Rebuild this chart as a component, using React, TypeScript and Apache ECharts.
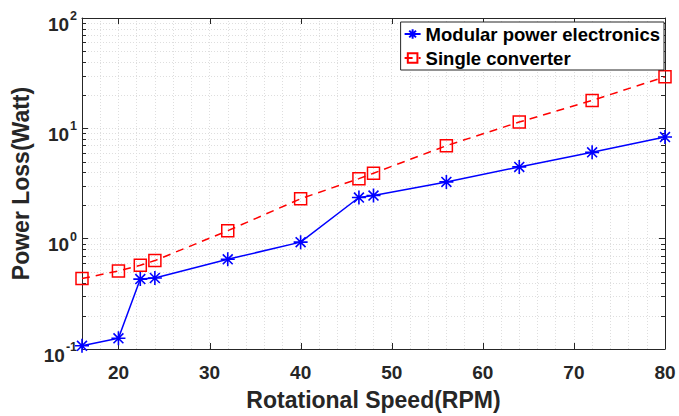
import React, { useEffect, useRef } from 'react';
import * as echarts from 'echarts';

// Data
const speedRPM = [16, 20, 22.4, 24, 32, 40, 46.4, 48, 56, 64, 72, 80];
const modularLoss = [0.107, 0.125, 0.43, 0.44, 0.65, 0.93, 2.36, 2.46, 3.27, 4.47, 6.06, 8.34];
const singleLoss = [0.435, 0.51, 0.574, 0.633, 1.18, 2.3, 3.5, 3.92, 6.96, 11.4, 17.9, 29.3];

const seriesNames = ['Modular power electronics', 'Single converter'];
const xMin = 16;
const xMax = 80;
const yMin = 0.1;
const yMax = 100;
const xMajorTicks = [20, 30, 40, 50, 60, 70, 80];
const yMinorTicks = [
  0.2, 0.3, 0.4, 0.5, 0.6, 0.7, 0.8, 0.9,
  2, 3, 4, 5, 6, 7, 8, 9,
  20, 30, 40, 50, 60, 70, 80, 90,
];

const FONT = "'Liberation Sans', Arial, Helvetica, sans-serif";
const AXIS_COLOR = '#262626';
const GRID_COLOR = '#dedede';

const asteriskPath =
  'path://M6 0 L6 12 M0 6 L12 6 M1.76 1.76 L10.24 10.24 M1.76 10.24 L10.24 1.76';

export default function App() {
  const ref = useRef<HTMLDivElement>(null);

  useEffect(() => {
    if (!ref.current) return;
    const chart = echarts.init(ref.current, undefined, { renderer: 'svg' });

    const option: any = {
      animation: false,
      backgroundColor: '#ffffff',
      textStyle: { fontFamily: FONT },
      grid: { left: 82, right: 14, top: 18, bottom: 66, containLabel: false },
      legend: {
        data: seriesNames,
        orient: 'vertical',
        right: 15,
        top: 22,
        padding: [2, 4, 2, 3],
        itemGap: 4,
        itemWidth: 16,
        itemHeight: 12,
        backgroundColor: '#ffffff',
        borderColor: AXIS_COLOR,
        borderWidth: 1,
        textStyle: {
          fontFamily: FONT,
          fontSize: 18.5,
          fontWeight: 'bold',
          color: '#000000',
          lineHeight: 20,
        },
      },
      xAxis: [
        {
          type: 'value',
          min: xMin,
          max: xMax,
          interval: 2,
          position: 'bottom',
          name: 'Rotational Speed(RPM)',
          nameLocation: 'middle',
          nameGap: 39,
          nameTextStyle: { fontFamily: FONT, fontSize: 23, fontWeight: 'bold', color: AXIS_COLOR },
          axisLine: { show: true, lineStyle: { color: AXIS_COLOR, width: 1 } },
          axisTick: { show: false },
          axisLabel: {
            margin: 14,
            fontFamily: FONT,
            fontSize: 19,
            fontWeight: 'bold',
            color: AXIS_COLOR,
            formatter: (v: number) => (xMajorTicks.indexOf(v) >= 0 ? String(v) : ''),
          },
          splitLine: { show: true, lineStyle: { color: GRID_COLOR, width: 1, type: [1, 2] } },
        },
        {
          type: 'value',
          min: xMin,
          max: xMax,
          position: 'top',
          axisLine: { show: true, lineStyle: { color: AXIS_COLOR, width: 1 } },
          axisTick: { show: false },
          axisLabel: { show: false },
          splitLine: { show: false },
        },
      ],
      yAxis: [
        {
          type: 'log',
          logBase: 10,
          min: yMin,
          max: yMax,
          position: 'left',
          name: 'Power Loss(Watt)',
          nameLocation: 'middle',
          nameGap: 46,
          nameTextStyle: { fontFamily: FONT, fontSize: 23, fontWeight: 'bold', color: AXIS_COLOR },
          axisLine: { show: true, lineStyle: { color: AXIS_COLOR, width: 1 } },
          axisTick: { show: true, inside: true, length: 6, lineStyle: { color: AXIS_COLOR } },
          axisLabel: {
            margin: 5,
            color: AXIS_COLOR,
            formatter: (v: number) => {
              const e = Math.round(Math.log10(v));
              return '{b|10}{s|' + e + '}';
            },
            rich: {
              b: { fontFamily: FONT, fontSize: 19, fontWeight: 'bold', color: AXIS_COLOR, lineHeight: 19, padding: [12, 0, 0, 0] },
              s: { fontFamily: FONT, fontSize: 12.5, fontWeight: 'bold', color: AXIS_COLOR, lineHeight: 13, padding: [7, 0, 11, 1] },
            },
          },
          splitLine: { show: true, lineStyle: { color: GRID_COLOR, width: 1, type: [1, 2] } },
        },
        {
          type: 'log',
          logBase: 10,
          min: yMin,
          max: yMax,
          position: 'right',
          axisLine: { show: true, lineStyle: { color: AXIS_COLOR, width: 1 } },
          axisTick: { show: true, inside: true, length: 6, lineStyle: { color: AXIS_COLOR } },
          axisLabel: { show: false },
          splitLine: { show: false },
        },
      ],
      series: [
        {
          type: 'custom',
          name: 'yMinor',
          silent: true,
          z: 1,
          xAxisIndex: 0,
          yAxisIndex: 0,
          data: yMinorTicks.map((v) => [xMin, v]),
          renderItem: (params: any, api: any) => {
            const v = api.value(1);
            const p0 = api.coord([xMin, v]);
            const p1 = api.coord([xMax, v]);
            const y = Math.round(p0[1]) + 0.5;
            return {
              type: 'group',
              children: [
                {
                  type: 'line',
                  shape: { x1: p0[0], y1: y, x2: p1[0], y2: y },
                  style: { stroke: GRID_COLOR, lineWidth: 1, lineDash: [1, 2] },
                },
                {
                  type: 'line',
                  shape: { x1: p0[0], y1: y, x2: p0[0] + 4, y2: y },
                  style: { stroke: AXIS_COLOR, lineWidth: 1 },
                },
                {
                  type: 'line',
                  shape: { x1: p1[0] - 4, y1: y, x2: p1[0], y2: y },
                  style: { stroke: AXIS_COLOR, lineWidth: 1 },
                },
              ],
            };
          },
        },
        {
          type: 'custom',
          name: 'xTicks',
          silent: true,
          z: 1,
          xAxisIndex: 0,
          yAxisIndex: 0,
          data: xMajorTicks.map((v) => [v, yMin]),
          renderItem: (params: any, api: any) => {
            const x = api.value(0);
            const pb = api.coord([x, yMin]);
            const pt = api.coord([x, yMax]);
            const xx = Math.round(pb[0]) + 0.5;
            return {
              type: 'group',
              children: [
                {
                  type: 'line',
                  shape: { x1: xx, y1: pb[1], x2: xx, y2: pb[1] - 6 },
                  style: { stroke: AXIS_COLOR, lineWidth: 1 },
                },
                {
                  type: 'line',
                  shape: { x1: xx, y1: pt[1], x2: xx, y2: pt[1] + 6 },
                  style: { stroke: AXIS_COLOR, lineWidth: 1 },
                },
              ],
            };
          },
        },
        {
          type: 'line',
          name: seriesNames[0],
          data: speedRPM.map((x, i) => [x, modularLoss[i]]),
          z: 3,
          clip: false,
          symbol: asteriskPath,
          symbolSize: 14,
          lineStyle: { color: '#0000ff', width: 1.5 },
          itemStyle: { color: 'none', borderColor: '#0000ff', borderWidth: 1.6 },
        },
        {
          type: 'line',
          name: seriesNames[1],
          data: speedRPM.map((x, i) => [x, singleLoss[i]]),
          z: 2,
          clip: false,
          symbol: 'rect',
          symbolSize: 12,
          lineStyle: { color: '#ff0000', width: 1.5, type: [8, 6] },
          itemStyle: { color: 'transparent', borderColor: '#ff0000', borderWidth: 1.5 },
        },
      ],
    };

    chart.setOption(option);
    return () => chart.dispose();
  }, []);

  return (
    <div
      ref={ref}
      style={{ position: 'fixed', left: 0, top: 0, width: 679, height: 416, background: '#fff' }}
    />
  );
}
